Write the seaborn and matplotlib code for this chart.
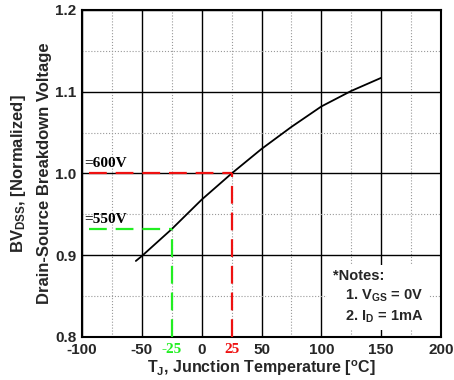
import numpy as np
import pandas as pd
import matplotlib
matplotlib.use("Agg")
import matplotlib.pyplot as plt
import seaborn as sns

sns.set_style("white")
plt.rcParams['font.family'] = ['Liberation Sans', 'DejaVu Sans']
plt.rcParams['font.weight'] = 'bold'
plt.rcParams['mathtext.fontset'] = 'custom'
plt.rcParams['mathtext.rm'] = 'Liberation Sans:bold'
plt.rcParams['mathtext.bf'] = 'Liberation Sans:bold'
plt.rcParams['mathtext.it'] = 'Liberation Sans:bold'
plt.rcParams['mathtext.default'] = 'rm'

# curve
temp = [-55, -50, -25, 0, 25, 50, 75, 100, 125, 150]
bv = [0.893, 0.899, 0.932, 0.968, 1.000, 1.030, 1.057, 1.082, 1.101, 1.117]

# reference points
ref_temp = [25, -25]
ref_bv = [1.000, 0.932]
ref_txt = ['=600V', '=550V']
ref_col = ['#ee1111', '#22ee22']

major_x = [-100, -50, 0, 50, 100, 150, 200]
minor_x = [-75, -25, 25, 75, 125, 175]
major_y = [0.8, 0.9, 1.0, 1.1, 1.2]
minor_y = [0.85, 0.95, 1.05, 1.15]

df = pd.DataFrame({'T': temp, 'BV': bv})

fig = plt.figure(figsize=(4.54, 3.8), dpi=100)
ax = fig.add_axes([0.1806, 0.1132, 0.7908, 0.8605])

sns.lineplot(data=df, x='T', y='BV', color='black', lw=1.3, ax=ax)

for t, v, c, s in zip(ref_temp, ref_bv, ref_col, ref_txt):
    ax.hlines(v, -94, t, colors=c, linestyles=(0, (8, 4)), lw=1.6, zorder=3)
    ax.vlines(t, 0.8, v, colors=c, linestyles=(0, (8, 4)), lw=1.6, zorder=3)
    ax.text(-98.5, v + 0.004, s, color='black', fontsize=11, fontweight='bold',
            family='Liberation Serif', ha='left', va='bottom')

ax.set_xlim(-100, 200)
ax.set_ylim(0.8, 1.2)
ax.set_xticks(major_x)
ax.set_xticks(minor_x, minor=True)
ax.set_yticks(major_y)
ax.set_yticks(minor_y, minor=True)
ax.set_xticklabels([str(v) for v in major_x])
ax.set_yticklabels(['%.1f' % v for v in major_y])
ax.set_xticklabels(['', '-25', '25', '', '', ''], minor=True)
for lab in ax.get_xticklabels(minor=True):
    if lab.get_text() == '-25':
        lab.set_color(ref_col[1])
    elif lab.get_text() == '25':
        lab.set_color(ref_col[0])
    lab.set_family('Liberation Serif')
    lab.set_fontsize(11.5)

ax.tick_params(axis='both', which='both', length=0, labelsize=11, pad=4)
ax.grid(which='major', color='black', lw=1.0)
ax.grid(which='minor', color='#999999', lw=0.8, ls=':')
ax.set_axisbelow(True)
for sp in ax.spines.values():
    sp.set_color('black')
    sp.set_linewidth(1.5)

ax.set_xlabel('T$_{J}$, Junction Temperature [$^{o}$C]', fontsize=11.5,
              fontweight='bold', labelpad=1)
ax.set_ylabel('BV$_{DSS}$, [Normalized]\nDrain-Source Breakdown Voltage',
              fontsize=12, fontweight='bold', labelpad=2, linespacing=1.75)

ax.text(109.5, 0.849, '*Notes:\n   1. V$_{GS}$ = 0V\n   2. I$_{D}$ = 1mA',
        fontsize=10.5, fontweight='bold', ha='left', va='center',
        linespacing=1.35,
        bbox=dict(facecolor='white', edgecolor='none', pad=4))

fig.savefig('out.png', dpi=100)
